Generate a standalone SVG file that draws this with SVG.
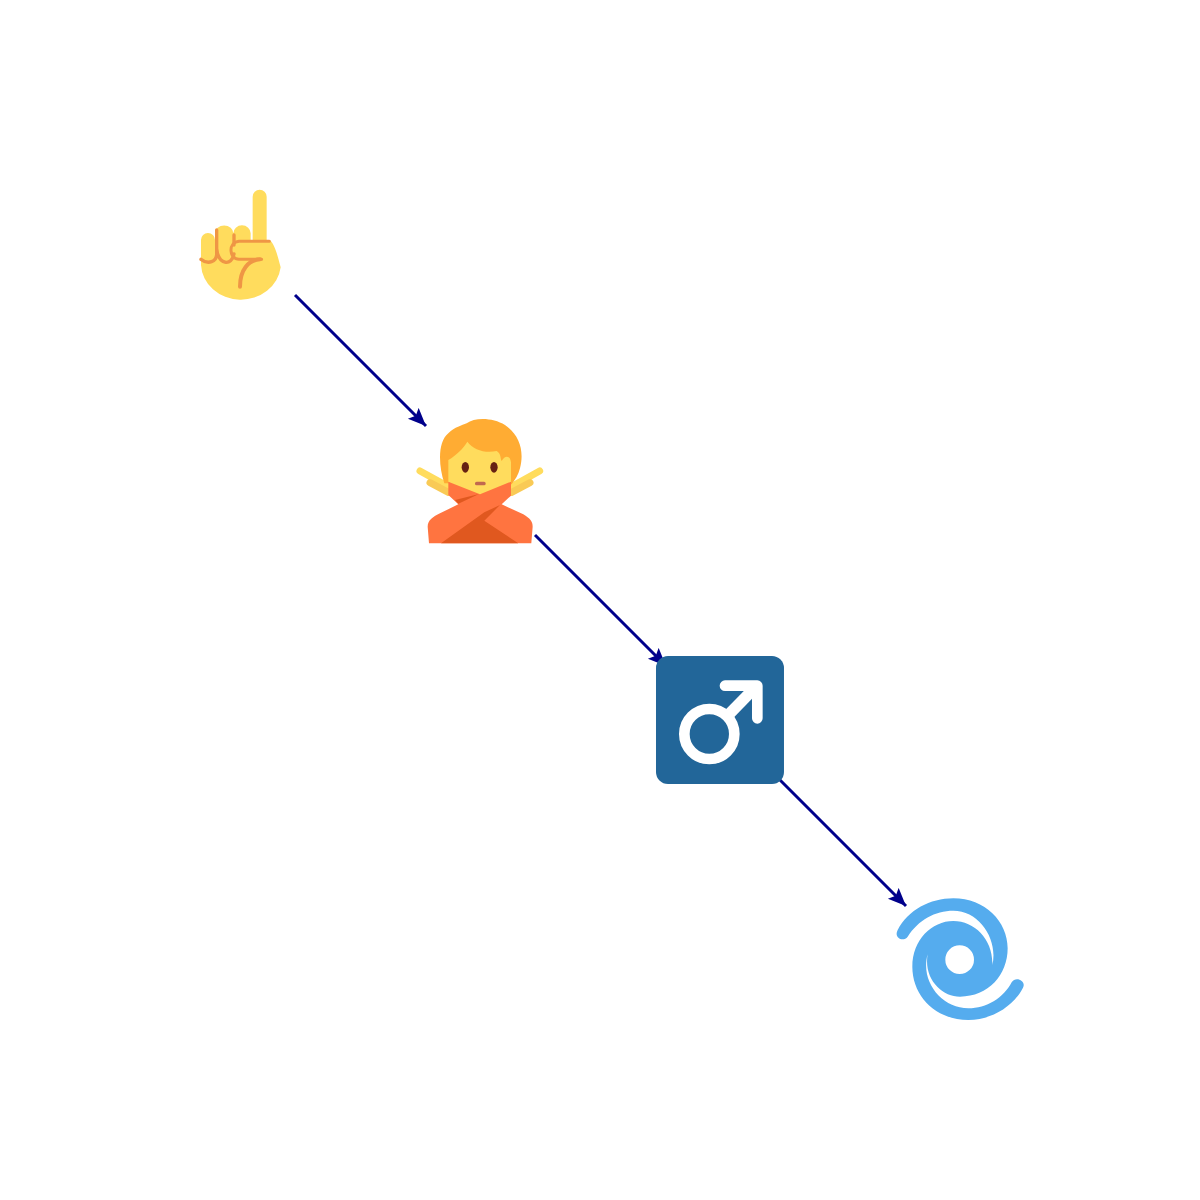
<svg xmlns="http://www.w3.org/2000/svg" width="1200" height="1200" viewBox="0 0 1200 1200">
<style>
.conn{stroke:#00008b;stroke-width:3;fill:none;marker-end:url(#arrow)}
.skin{fill:#ffdc5d}
.crease{fill:none;stroke:#ef9645;stroke-linecap:round;stroke-linejoin:round}
.shirt{fill:#ff7440}
.fold{fill:#e0581f}
</style>
<defs>
<marker id="arrow" markerUnits="userSpaceOnUse" markerWidth="20" markerHeight="18" refX="18" refY="8" orient="auto">
<path d="M0,0.4 L18,8 L0,15.6 L3.5,8 Z" fill="#00008b"/>
</marker>
</defs>
<rect width="1200" height="1200" fill="#ffffff"/>
<g id="connectors">
<line class="conn" x1="295" y1="295" x2="426" y2="426"/>
<line class="conn" x1="535" y1="535" x2="666" y2="666"/>
<line class="conn" x1="775" y1="775" x2="906" y2="906"/>
</g>
<g id="node-hand" transform="translate(190,180) scale(0.3333)">
<path class="skin" d="M188,50 a21,21 0 0 1 42,0 V181 H240 C255,195 262,225 272,262 A120,110 0 0 1 33,255 V180 a21,21 0 0 1 42,0 V160 a27,23 0 0 1 55,0 a25,23 0 0 1 52,0 V181 H188 Z"/>
<path class="crease" stroke-width="9" d="M215,238 H147 C118,238 112,187 147,184 H238"/>
<path class="crease" stroke-width="12" d="M210,238 C175,240 150,270 150,320"/>
<path class="crease" stroke-width="10" d="M33,238 C55,255 80,245 80,222 V150 M80,205 C85,255 125,260 132,222 M132,165 V195"/>
</g>
<g id="node-person" transform="translate(405,405) scale(0.3333)">
<line x1="45" y1="198" x2="130" y2="245" stroke="#ffdc5d" stroke-width="21" stroke-linecap="round"/>
<line x1="75" y1="233" x2="130" y2="262" stroke="#f9ca55" stroke-width="21" stroke-linecap="round"/>
<line x1="404" y1="198" x2="320" y2="245" stroke="#ffdc5d" stroke-width="21" stroke-linecap="round"/>
<line x1="375" y1="233" x2="320" y2="262" stroke="#f9ca55" stroke-width="21" stroke-linecap="round"/>
<path fill="#ffac33" d="M118,235 C100,180 98,110 130,85 C150,65 170,62 185,55 C210,36 265,38 300,60 C345,90 358,140 345,190 C340,210 330,225 320,238 Z"/>
<path class="skin" d="M130,165 C155,150 175,130 187,110 C205,135 240,145 275,138 C290,148 285,160 290,168 C300,150 315,150 318,172 V240 L225,275 L130,232 Z"/>
<ellipse cx="181" cy="187" rx="11" ry="16" fill="#662113"/>
<ellipse cx="267" cy="187" rx="11" ry="16" fill="#662113"/>
<rect x="210" y="230" width="32" height="11" rx="5" fill="#c1694f"/>
<path class="shirt" d="M130,230 L225,268 L318,230 V272 L290,298 L355,328 C375,340 383,350 383,365 L379,415 H72 L68,365 C68,345 85,335 105,325 L160,298 L130,270 Z"/>
<path class="fold" d="M108,415 L238,322 L285,300 L238,347 L340,415 Z"/>
<path class="fold" d="M150,285 L222,267 L160,296 Z"/>
</g>
<g id="node-male" transform="translate(640,640) scale(0.3333)">
<rect x="48" y="48" width="384" height="384" rx="36" fill="#226699"/>
<circle cx="208" cy="282" r="75" fill="none" stroke="#ffffff" stroke-width="32"/>
<path d="M270,220 L345,143" fill="none" stroke="#ffffff" stroke-width="34"/>
<path d="M255,137 H352 V235" fill="none" stroke="#ffffff" stroke-width="32" stroke-linecap="round" stroke-linejoin="round"/>
</g>
<g id="node-cyclone" transform="translate(885,885) scale(0.3333)">
<path fill="#55acee" fill-rule="evenodd" d="M38,135 C70,75 135,40 205,40 C300,40 368,110 368,190 C368,270 310,335 225,335 C170,335 115,280 128,208 C105,290 170,370 250,370 C305,370 355,340 380,292 C392,272 425,288 414,308 C385,365 320,405 250,405 C155,405 82,335 82,245 C82,165 140,108 205,108 C270,108 325,165 322,240 C340,165 285,77 205,77 C150,77 100,105 68,155 C56,172 25,160 38,135 Z M267,224 A43,43 0 1 0 181,224 A43,43 0 1 0 267,224 Z"/>
</g>
</svg>
